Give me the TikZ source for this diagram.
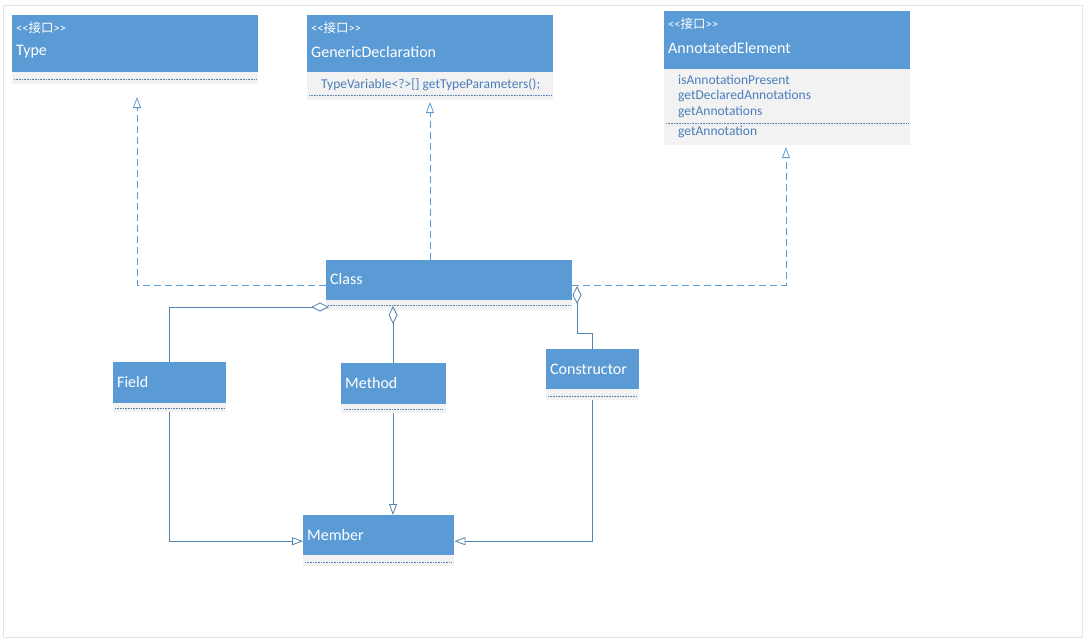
\documentclass[tikz,border=0pt]{standalone}
\usepackage{fontspec}
\setmainfont{Carlito}
\newfontfamily\cjk{Noto Sans CJK SC}
\usetikzlibrary{arrows.meta,calc,positioning}
\definecolor{umlBlau}{HTML}{5B9BD5}
\definecolor{umlGrau}{HTML}{F2F2F2}
\definecolor{umlText}{HTML}{4A7EBB}
\definecolor{umlLinie}{HTML}{5583B3}
\definecolor{rahmen}{HTML}{E4E4E4}
\begin{document}
\begin{tikzpicture}[x=1pt,y=-1pt,
  kopf/.style={fill=umlBlau,anchor=north west,inner sep=0pt},
  fach/.style={fill=umlGrau,anchor=north west,inner sep=0pt},
  stereo/.style={anchor=west,inner sep=0pt,text=white,font=\fontsize{12.5}{14}\selectfont},
  titel/.style={anchor=west,inner sep=0pt,text=white,font=\fontsize{16}{18}\selectfont},
  eintrag/.style={anchor=west,inner sep=0pt,text=umlText,font=\fontsize{13.5}{15}\selectfont},
  trenner/.style={umlLinie,line width=0.6pt,dash pattern=on 1pt off 0.6pt},
  real/.style={umlBlau,line width=0.8pt,dash pattern=on 7pt off 4pt,-{Triangle[open,length=11pt,width=8pt]}},
  gen/.style={umlLinie,line width=0.8pt,-{Triangle[open,length=11pt,width=8pt]}},
  aggr/.style={umlLinie,line width=0.8pt,{Diamond[open,length=18pt,width=9pt]}-}]
%Rahmen und Groesse wie im Original
\useasboundingbox (0,0) rectangle (1084,640);
\draw[rahmen,line width=0.6pt] (3,5) rectangle (1082,637);
%Schnittstellen oben
\node[kopf,minimum width=246pt,minimum height=57pt] (typKopf) at (12,15) {};
\node[fach,minimum width=246pt,minimum height=12pt] (typFach) at (12,72) {};
\node[stereo] (typStereo) at (16,28) {{<}{<}{\cjk 接口}{>}{>}};
\node[titel] (typName) at (16,52) {Type};
\draw[trenner] (14,79) -- (256,79);

\node[kopf,minimum width=246pt,minimum height=57pt] (genKopf) at (307,15) {};
\node[fach,minimum width=246pt,minimum height=28pt] (genFach) at (307,72) {};
\node[stereo] (genStereo) at (311,28) {{<}{<}{\cjk 接口}{>}{>}};
\node[titel] (genName) at (311,52) {GenericDeclaration};
\node[eintrag] (genMethode) at (321,85) {TypeVariable<?>[] getTypeParameters();};
\draw[trenner] (309,95) -- (551,95);

\node[kopf,minimum width=246pt,minimum height=58pt] (annKopf) at (664,11) {};
\node[fach,minimum width=246pt,minimum height=76pt] (annFach) at (664,69) {};
\node[stereo] (annStereo) at (668,24) {{<}{<}{\cjk 接口}{>}{>}};
\node[titel] (annName) at (668,48) {AnnotatedElement};
\node[eintrag] (annEins) at (678,80) {isAnnotationPresent};
\node[eintrag] (annZwei) at (678,96) {getDeclaredAnnotations};
\node[eintrag] (annDrei) at (678,112) {getAnnotations};
\draw[trenner] (666,123) -- (908,123);
\node[eintrag] (annVier) at (678,132) {getAnnotation};
%Klassen
\node[kopf,minimum width=246pt,minimum height=40pt] (classKopf) at (326,260) {};
\node[fach,minimum width=246pt,minimum height=10pt] (classFach) at (326,300) {};
\node[titel] (className) at (330,279) {Class};
\draw[trenner] (328,305) -- (570,305);

\node[kopf,minimum width=113pt,minimum height=41pt] (fieldKopf) at (113,362) {};
\node[fach,minimum width=113pt,minimum height=9pt] (fieldFach) at (113,403) {};
\node[titel] (fieldName) at (117,382) {Field};
\draw[trenner] (115,408) -- (224,408);

\node[kopf,minimum width=105pt,minimum height=41pt] (methodKopf) at (341,363) {};
\node[fach,minimum width=105pt,minimum height=9pt] (methodFach) at (341,404) {};
\node[titel] (methodName) at (345,383) {Method};
\draw[trenner] (344,409) -- (443,409);

\node[kopf,minimum width=93pt,minimum height=40pt] (konstKopf) at (546,349) {};
\node[fach,minimum width=93pt,minimum height=11pt] (konstFach) at (546,389) {};
\node[titel] (konstName) at (550,369) {Constructor};
\draw[trenner] (548,396) -- (637,396);

\node[kopf,minimum width=151pt,minimum height=40pt] (memberKopf) at (303,515) {};
\node[fach,minimum width=151pt,minimum height=11pt] (memberFach) at (303,555) {};
\node[titel] (memberName) at (307,535) {Member};
\draw[trenner] (305,562) -- (452,562);
%Realisierungen (gestrichelt)
\coordinate (typSpitze) at (137,97);
\coordinate (genSpitze) at (430,102);
\coordinate (annSpitze) at (786,147);
\draw[real] ([yshift=-5pt]classKopf.west) -| (typSpitze);
\draw[real] (classKopf.north -| genSpitze) -- (genSpitze);
\draw[real] ([yshift=-5pt]classKopf.east) -| (annSpitze);
%Aggregationen
\coordinate (fieldRaute) at (329,307);
\coordinate (methodRaute) at (393,306);
\coordinate (konstRaute) at (577,286);
\draw[aggr] (fieldRaute) -| (fieldKopf.north);
\draw[aggr] (methodRaute) -- (methodKopf.north -| methodRaute);
\draw[aggr] (konstRaute) -- ++(0,47) -| (konstKopf.north);
%Vererbung nach Member
\draw[gen] (fieldFach.south) |- ([yshift=-6pt]memberKopf.west);
\draw[gen] (methodFach.south -| methodRaute) -- (memberKopf.north -| methodRaute);
\draw[gen] (konstFach.south) |- ([yshift=-6pt]memberKopf.east);
\end{tikzpicture}
\end{document}
